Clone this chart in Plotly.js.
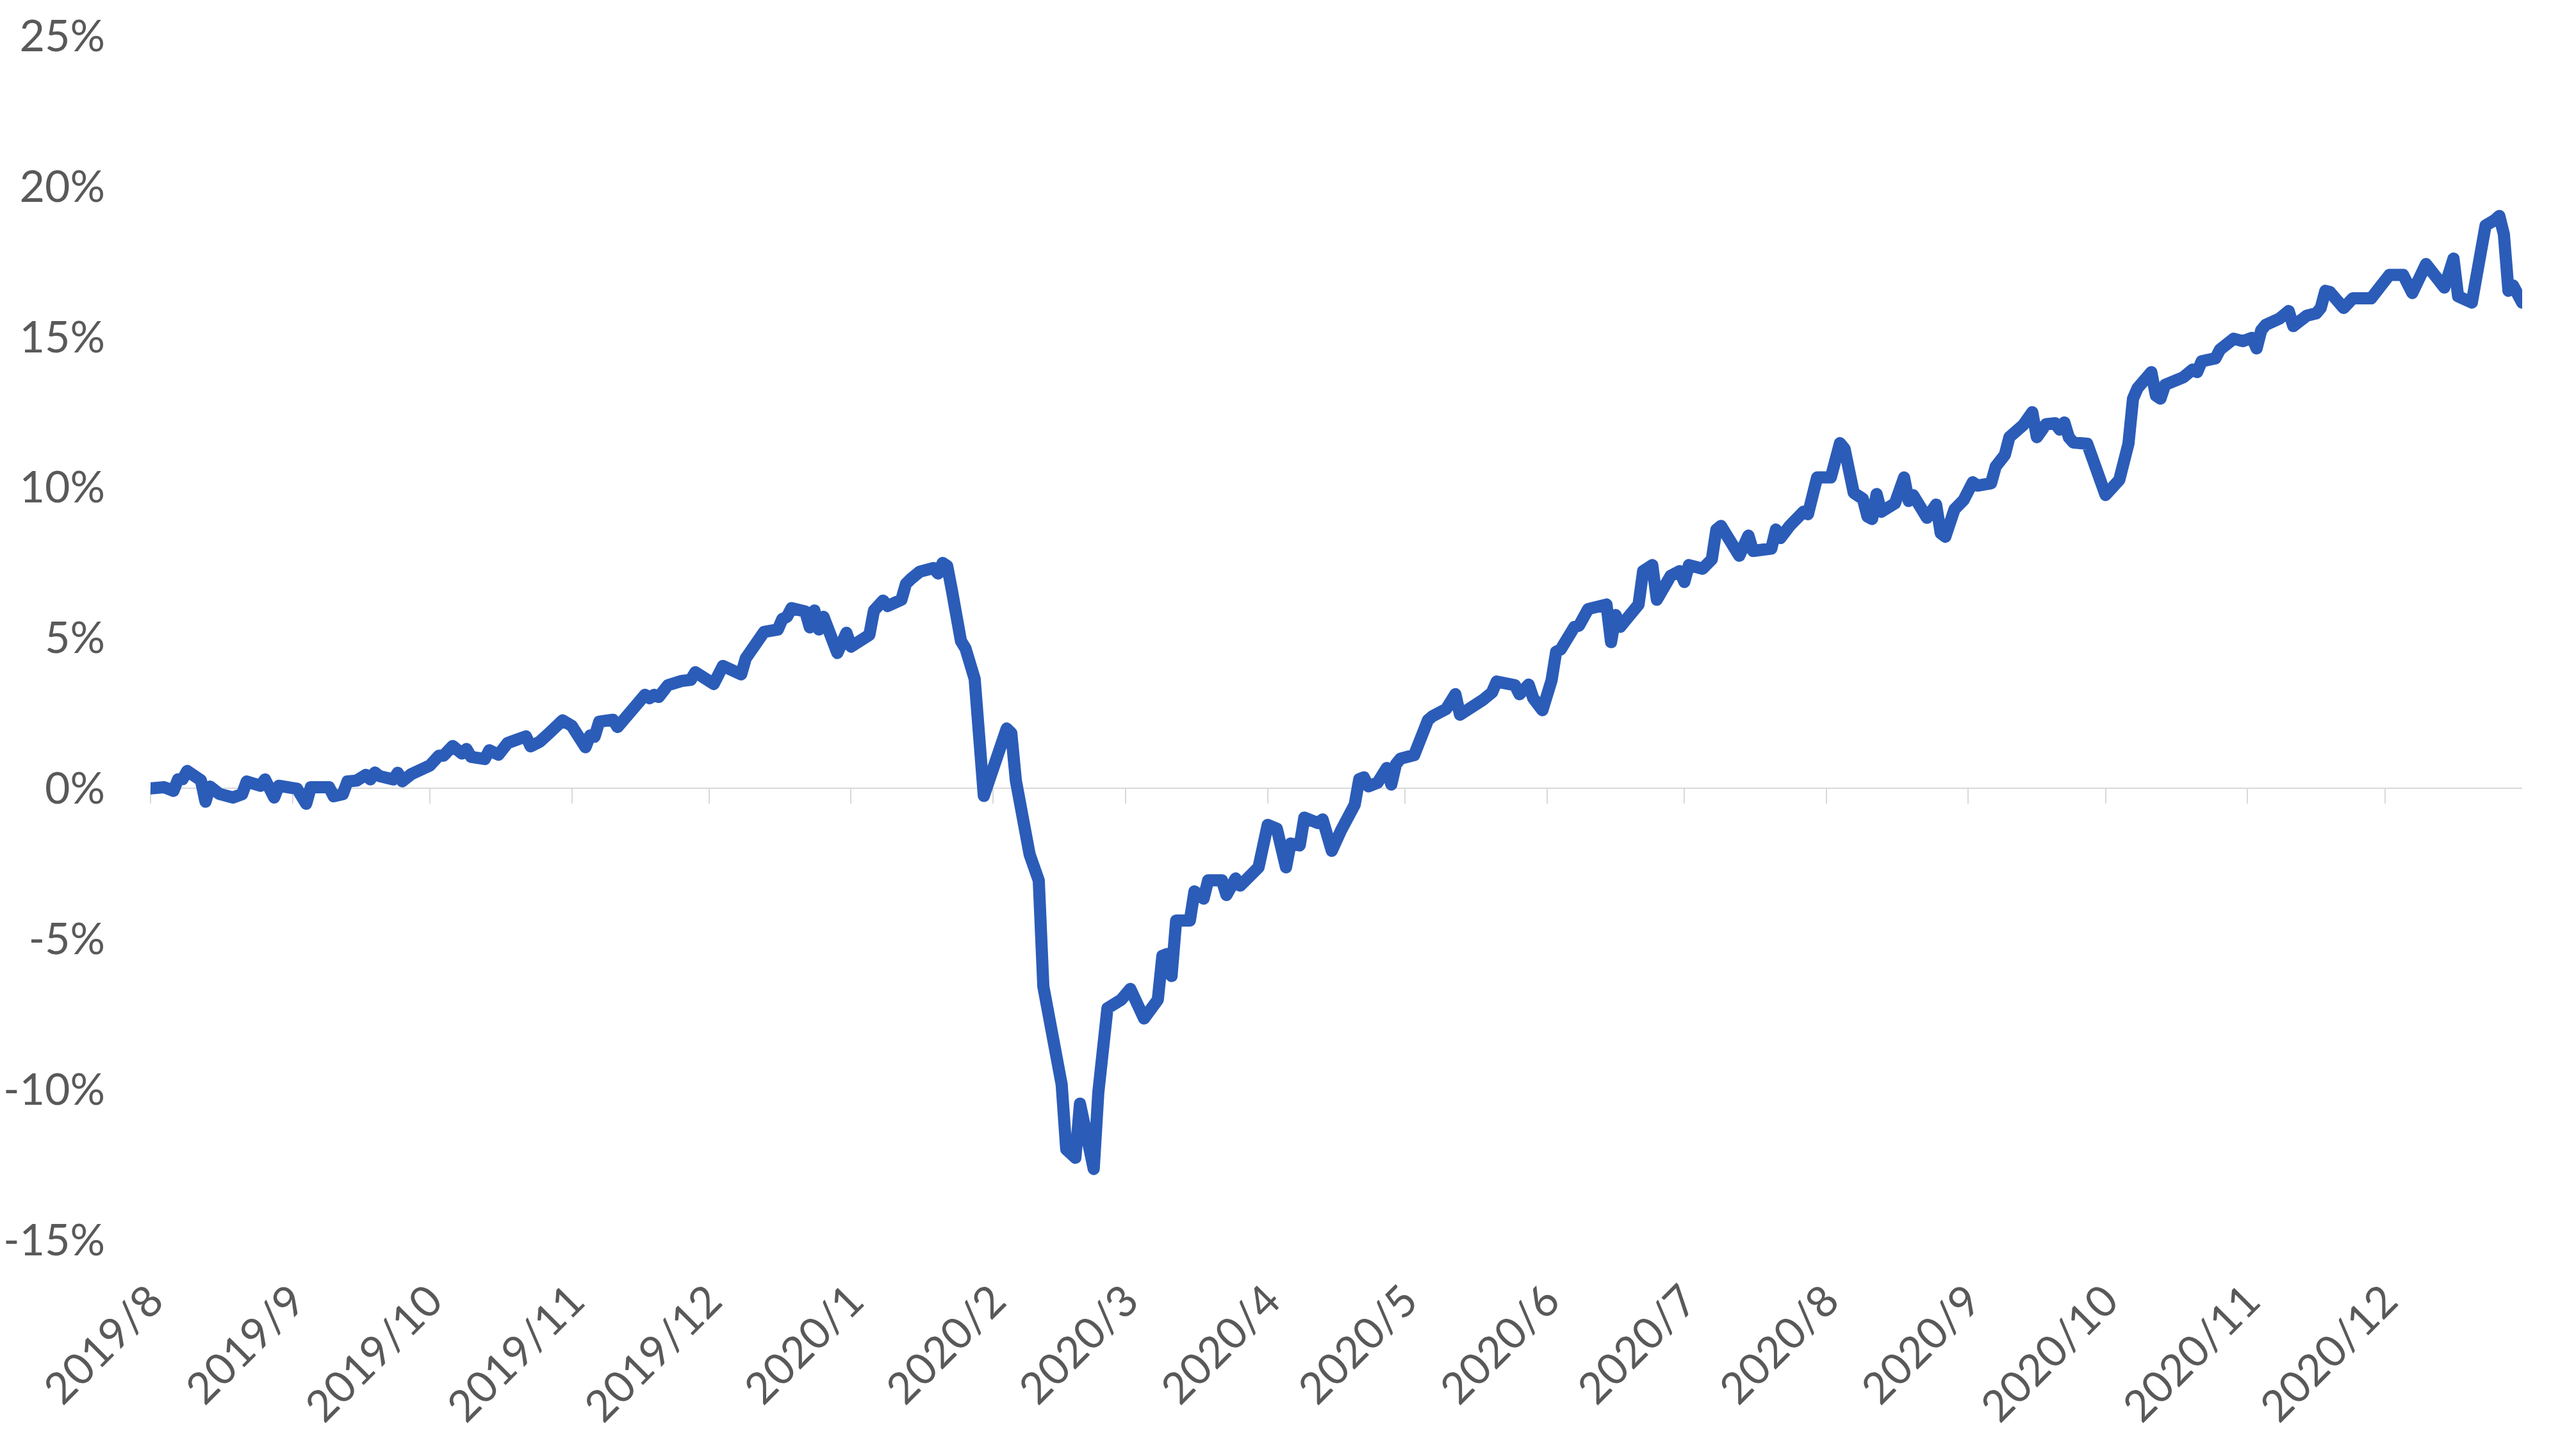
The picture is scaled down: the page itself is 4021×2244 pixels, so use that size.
<!DOCTYPE html>
<html><head><meta charset="utf-8">
<script src="https://cdn.plot.ly/plotly-3.0.1.min.js"></script>
<style>
html,body{margin:0;padding:0;background:#ffffff;}
#chart{width:4021px;height:2244px;}
#chart .js-line{stroke-linejoin:round;stroke-linecap:round;}
</style></head><body><div id="chart"></div>
<script>
// Cumulative return (%), by calendar-day offset from the start date
const startDate = '2019-08-01';
const endDate = '2020-12-31';
const dayOffsets = [
  0,3,5,6,7,8,11,12,13,15,
  18,20,21,24,25,27,28,32,34,35,
  39,40,42,43,45,47,48,49,50,53,
  54,55,57,60,61,63,64,66,68,69,
  70,73,74,76,78,80,82,83,85,87,
  89,90,92,94,95,96,97,98,101,102,
  104,106,108,109,110,111,113,116,118,119,
  123,125,129,130,133,134,137,138,139,140,
  143,144,145,146,147,150,152,153,157,158,
  160,161,164,165,166,168,171,172,173,174,
  175,177,178,180,182,184,186,187,188,189,
  192,193,194,195,199,200,202,203,206,207,
  209,212,214,217,220,221,222,223,224,227,
  228,230,231,234,235,237,238,242,243,244,
  246,248,249,251,252,255,256,258,260,263,
  264,265,266,268,270,271,272,273,276,278,
  279,280,283,285,286,291,293,294,297,298,
  299,301,302,304,306,307,308,311,312,314,
  318,319,320,321,325,326,328,329,332,334,
  335,336,339,341,342,343,347,349,350,354,
  355,356,358,361,362,363,364,367,368,369,
  370,372,374,375,376,377,378,381,383,384,
  385,388,390,391,392,394,396,398,399,402,
  403,405,406,409,411,412,414,416,417,418,
  419,420,423,425,426,427,430,432,433,434,
  437,438,439,440,444,446,447,448,451,452,
  455,457,459,460,461,462,465,467,468,471,
  473,474,475,476,479,481,485,487,488,489,
  492,494,497,501,503,504,507,508,509,510,
  512,513,514,515,516,518
];
const returnPct = [
  0.00,0.04,-0.08,0.30,0.31,0.58,0.27,-0.44,0.06,-0.18,
  -0.30,-0.19,0.23,0.09,0.30,-0.30,0.09,-0.01,-0.51,0.04,
  0.04,-0.26,-0.19,0.23,0.26,0.45,0.30,0.53,0.41,0.30,
  0.52,0.24,0.48,0.73,0.76,1.09,1.09,1.41,1.16,1.31,
  1.05,0.98,1.27,1.12,1.51,1.62,1.73,1.40,1.55,1.83,
  2.19,2.26,2.08,1.65,1.37,1.76,1.72,2.22,2.28,2.04,
  2.40,2.75,3.11,3.00,3.11,3.04,3.43,3.57,3.61,3.86,
  3.47,4.07,3.79,4.32,5.13,5.20,5.28,5.63,5.70,5.99,
  5.88,5.35,5.91,5.28,5.70,4.50,5.17,4.71,5.10,5.91,
  6.24,6.06,6.27,6.80,6.95,7.20,7.32,7.14,7.49,7.39,
  6.60,4.90,4.65,3.64,-0.25,0.69,1.63,1.99,1.84,0.26,
  -2.19,-2.62,-3.06,-6.58,-9.83,-11.99,-12.27,-10.47,-12.64,-10.11,
  -7.30,-7.02,-6.66,-7.64,-7.02,-5.56,-5.50,-6.23,-4.39,-4.39,
  -3.42,-3.66,-3.05,-3.05,-3.54,-2.99,-3.23,-2.62,-2.07,-1.21,
  -1.34,-2.62,-1.83,-1.89,-0.97,-1.15,-1.03,-2.07,-1.40,-0.54,
  0.31,0.37,0.07,0.19,0.68,0.13,0.80,0.99,1.11,1.90,
  2.27,2.40,2.64,3.13,2.45,2.94,3.19,3.55,3.43,3.43,
  3.13,3.45,3.00,2.60,3.59,4.54,4.62,5.37,5.41,5.96,
  6.11,4.86,5.76,5.37,6.11,7.22,7.42,6.27,7.06,7.22,
  6.86,7.42,7.30,7.61,8.60,8.72,7.73,8.40,7.89,7.97,
  8.60,8.32,8.72,9.19,9.11,9.90,10.33,10.33,11.08,11.47,
  11.28,9.82,9.62,9.03,8.95,9.78,9.19,9.47,10.33,9.55,
  9.74,8.99,9.43,8.48,8.36,9.27,9.58,10.17,10.06,10.14,
  10.69,11.08,11.67,12.07,12.50,11.67,12.10,12.13,11.92,12.16,
  11.66,11.49,11.45,10.60,10.39,9.75,10.25,11.45,12.95,13.30,
  13.83,13.05,12.95,13.41,13.66,13.91,13.83,14.19,14.29,14.58,
  14.94,14.86,14.97,14.62,15.22,15.40,15.61,15.86,15.36,15.71,
  15.78,15.96,16.53,16.49,15.96,16.28,16.28,16.71,16.89,17.06,
  17.06,16.46,17.42,16.64,17.60,16.35,16.14,16.92,18.20,18.70,
  18.88,19.02,18.41,16.53,16.71,16.14
];
const monthTickDates = ['2019-08-01','2019-09-01','2019-10-01','2019-11-01','2019-12-01',
  '2020-01-01','2020-02-01','2020-03-01','2020-04-01','2020-05-01','2020-06-01',
  '2020-07-01','2020-08-01','2020-09-01','2020-10-01','2020-11-01','2020-12-01'];
const monthTickLabels = ['2019/8','2019/9','2019/10','2019/11','2019/12',
  '2020/1','2020/2','2020/3','2020/4','2020/5','2020/6',
  '2020/7','2020/8','2020/9','2020/10','2020/11','2020/12'];
const yTickValues = [-15,-10,-5,0,5,10,15,20,25];
const yTickLabels = ['-15%','-10%','-5%','0%','5%','10%','15%','20%','25%'];

const base = Date.parse(startDate + 'T00:00:00Z');
const dates = dayOffsets.map(d => new Date(base + d * 86400000).toISOString().slice(0, 10));

const fontFamily = 'Lato, "Open Sans", sans-serif';
const textColor = '#595959';
const gridColor = '#d9d9d9';
const yMin = -15, yMax = 25;

const traces = [
  {
    x: dates, y: returnPct, type: 'scatter', mode: 'lines',
    xaxis: 'x', yaxis: 'y',
    line: {color: '#2B5CB8', width: 19},
    hoverinfo: 'skip', showlegend: false
  },
  {
    x: [startDate], y: [null], type: 'scatter', mode: 'lines',
    xaxis: 'x2', yaxis: 'y', hoverinfo: 'skip', showlegend: false
  }
];

const layout = {
  width: 4021, height: 2244, autosize: false,
  margin: {l: 235, r: 84, t: 56, b: 309, pad: 0},
  paper_bgcolor: '#ffffff', plot_bgcolor: '#ffffff',
  font: {family: fontFamily, color: textColor, size: 68},
  showlegend: false,
  xaxis: {
    type: 'date', range: [startDate, endDate],
    anchor: 'free', position: (0 - yMin) / (yMax - yMin),
    showline: true, linecolor: gridColor, linewidth: 2,
    ticks: 'outside', ticklen: 23, tickwidth: 2, tickcolor: gridColor,
    tickvals: monthTickDates, showticklabels: false,
    showgrid: false, zeroline: false, layer: 'below traces', fixedrange: true
  },
  xaxis2: {
    type: 'date', overlaying: 'x', matches: 'x', anchor: 'y', side: 'bottom',
    range: [startDate, endDate],
    showline: false, ticks: '', showgrid: false, zeroline: false,
    tickvals: monthTickDates, ticktext: monthTickLabels,
    tickangle: -45, ticklabelstandoff: 40,
    tickfont: {family: fontFamily, color: textColor, size: 68}
  },
  yaxis: {
    range: [yMin, yMax], showgrid: false, zeroline: false, showline: false,
    ticks: '', tickvals: yTickValues, ticktext: yTickLabels,
    ticklabelstandoff: 70,
    tickfont: {family: fontFamily, color: textColor, size: 68}, fixedrange: true
  }
};

Plotly.newPlot('chart', traces, layout, {staticPlot: true, displayModeBar: false});
</script></body></html>
